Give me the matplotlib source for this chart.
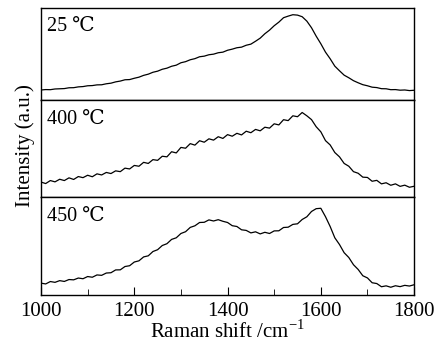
import numpy as np
import matplotlib
matplotlib.use('Agg')
import matplotlib.pyplot as plt
from matplotlib.ticker import MultipleLocator

plt.rcParams['font.family'] = ['Liberation Serif', 'DejaVu Serif']
plt.rcParams['mathtext.fontset'] = 'custom'
plt.rcParams['mathtext.rm'] = 'Liberation Serif'

# Raman shift (cm-1), one reading every 10 cm-1
shift = np.arange(1000, 1801, 10)

# intensities (arbitrary units)
i_25 = [10, 10.4, 10.3, 11, 11.2, 11.4, 12.2, 12.3, 13.1, 13.4, 14.2, 14.4, 15.1, 15.2, 16.2, 16.8,
        18.1, 18.9, 20.2, 20.4, 21.7, 22.8, 24.6, 25.8, 27.7, 28.8, 30.7, 31.8, 33.7, 34.8, 37.2, 38.3,
        40.2, 41.3, 43.2, 43.8, 45.2, 45.8, 47.2, 47.8, 49.7, 50.8, 52.2, 52.8, 54.7, 55.8, 58.7, 61.8,
        66.2, 69.8, 74.2, 77.8, 82.2, 83.8, 85.2, 84.8, 83.2, 78.8, 72.2, 63.8, 56.2, 47.8, 41.2, 33.8,
        29.2, 24.8, 22.2, 19.3, 17.2, 15.3, 14.2, 12.8, 12.4, 11.3, 11.2, 10.3, 10.4, 9.8, 10, 9.4, 9.7]

i_400 = [15, 13.5, 16.5, 15.2, 17.8, 16.5, 19.2, 17.6, 20.5, 19.4, 21.8, 20.3, 23.2, 22.1, 24.6, 23.5,
         26.2, 25.4, 28.9, 28.1, 31.6, 30.8, 34.7, 33.6, 37.4, 36.7, 40.8, 40.2, 45.3, 44.1, 49.6, 48.8,
         53.4, 51.9, 56.3, 54.8, 58.2, 56.9, 60.3, 58.6, 62.4, 60.8, 63.7, 62.1, 65.8, 64.3, 67.6, 66.2,
         69.8, 68.9, 73.2, 72.1, 77.3, 76.4, 81.2, 80.3, 84.5, 81.2, 77.4, 70.3, 65.2, 56.4, 52.1, 44.5,
         40.2, 33.6, 30.8, 25.4, 23.8, 19.9, 19.6, 15.8, 16.7, 13.2, 14.3, 11.8, 13.2, 10.7, 11.9, 9.8, 10.8]

i_450 = [12, 11.2, 13.6, 12.8, 14.5, 13.7, 15.6, 15.3, 17.1, 16.4, 18.6, 17.9, 20.2, 19.8, 22.1, 22.4,
         25.2, 25.3, 28.6, 29.4, 33.1, 34.3, 38.2, 39.3, 43.6, 45.4, 49.6, 51.4, 55.7, 57.3, 61.6, 63.4,
         67.7, 69.3, 72.6, 72.8, 75.2, 74.1, 75.4, 73.8, 72.6, 69.4, 68.6, 65.3, 64.7, 62.2, 63.3, 61.2,
         62.8, 61.6, 64.2, 64.3, 67.6, 67.9, 70.7, 71.3, 75.6, 78.3, 83.6, 86.4, 86.8, 78.4, 68.6, 57.3,
         50.6, 42.4, 37.6, 30.4, 25.7, 19.4, 17.2, 12.4, 11.6, 8.4, 9.3, 7.9, 9.4, 8.5, 9.8, 9.1, 10.4]

labels = ['25 \u2103', '400 \u2103', '450 \u2103']
series = [i_25, i_400, i_450]
ylims = [92, 97, 98]

fig, axes = plt.subplots(3, 1, sharex=True, figsize=(4.41, 3.44), dpi=100,
                         gridspec_kw={'height_ratios': [92, 97, 98]})
fig.subplots_adjust(left=0.093, right=0.939, top=0.977, bottom=0.142, hspace=0)

for ax, y, lab, top in zip(axes, series, labels, ylims):
    ax.plot(shift, y, color='black', lw=0.9)
    ax.set_ylim(0, top)
    ax.set_xlim(1000, 1800)
    ax.set_yticks([])
    ax.text(0.015, 0.80, lab, transform=ax.transAxes, va='center', ha='left', fontsize=14.5)
    for s in ax.spines.values():
        s.set_linewidth(1.0)
    ax.tick_params(axis='x', which='both', bottom=False, top=False)

ax = axes[-1]
ax.xaxis.set_major_locator(MultipleLocator(200))
ax.xaxis.set_minor_locator(MultipleLocator(100))
ax.tick_params(axis='x', which='both', direction='in', bottom=True, labelsize=15)
ax.tick_params(axis='x', which='major', length=6, pad=5)
ax.tick_params(axis='x', which='minor', length=4)
ax.set_xlabel('Raman shift /cm$^{-1}$', fontsize=15, labelpad=-1)

fig.text(0.057, 0.578, 'Intensity (a.u.)', rotation=90, va='center', ha='center', fontsize=15)

fig.savefig('out.png', dpi=100)
